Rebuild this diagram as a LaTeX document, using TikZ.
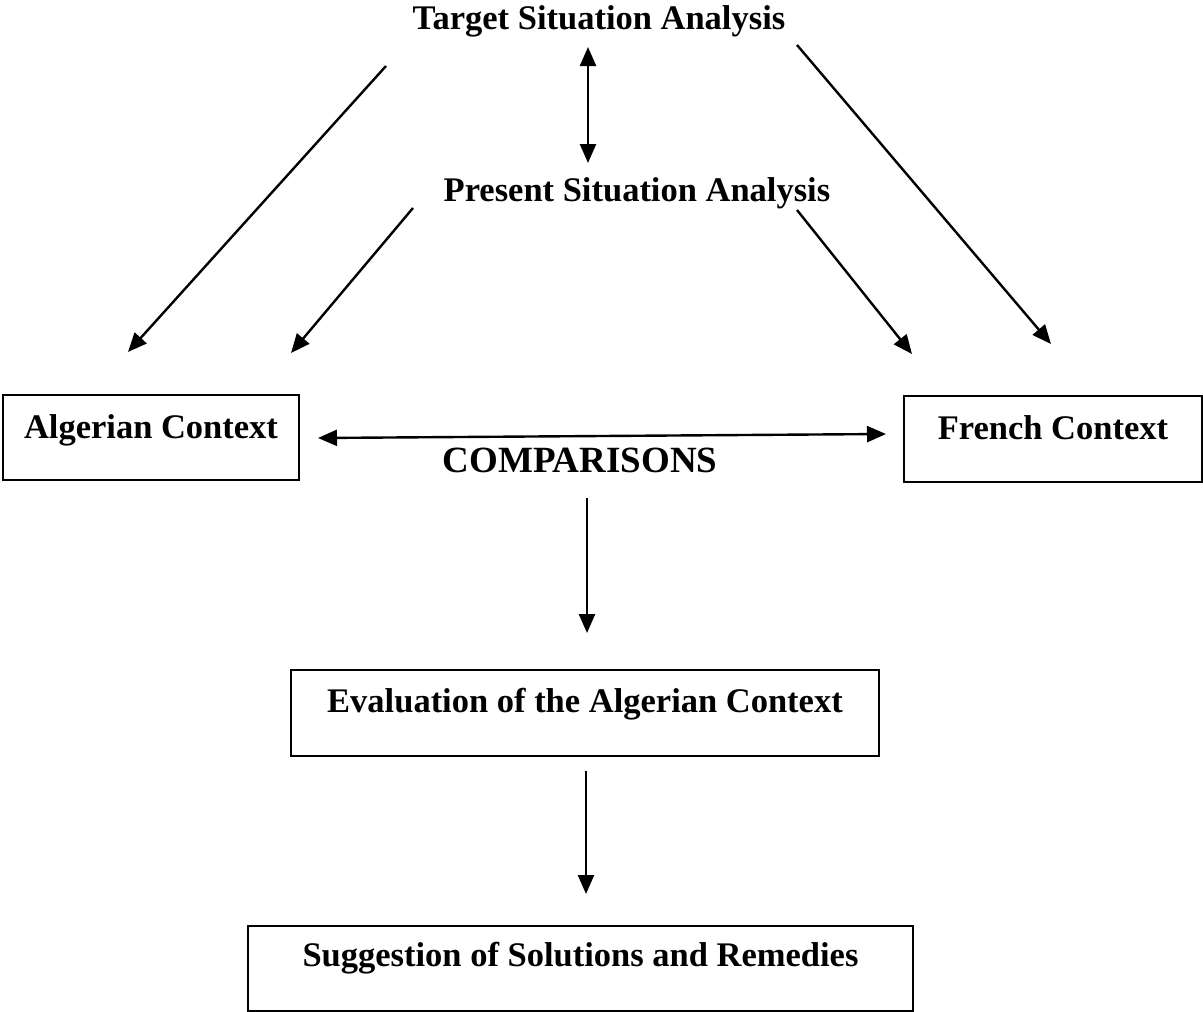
\documentclass[tikz,border=0pt]{standalone}
\usepackage{fontspec}
\setmainfont{Liberation Serif}
\usetikzlibrary{arrows.meta}

\begin{document}
\begin{tikzpicture}[x=1pt,y=-1pt,
  label/.style={font=\fontsize{34.5}{40}\selectfont\bfseries, inner sep=0pt, outer sep=0pt, anchor=base},
  ctxbox/.style={label, draw, line width=1.8pt, align=center, inner xsep=0pt, inner ysep=0pt},
  tip/.style={Triangle[length=19pt,width=16pt]},
  link/.style={line width=2.4pt, -{Triangle[length=19pt,width=16pt]}},
  biglink/.style={line width=2.4pt, {Triangle[length=19pt,width=16pt]}-{Triangle[length=19pt,width=16pt]}}
]
  % page frame
  \useasboundingbox (0,0) rectangle (1203,1012);

  % headings
  \node[label] (tsa) at (599,29) {Target Situation Analysis};
  \node[label] (psa) at (637,201) {Present Situation Analysis};

  % context boxes (text sits in the upper half of each frame)
  \node[ctxbox, minimum width=296pt, text height=43pt, text depth=42pt] (alg) at (151,438) {Algerian Context};
  \node[ctxbox, minimum width=298pt, text height=43pt, text depth=43pt] (fr) at (1053,439) {French Context};

  \node[label, font=\fontsize{37}{42}\selectfont\bfseries] (cmp) at (580,472) {COMPARISONS};

  \node[ctxbox, minimum width=588pt, text height=42pt, text depth=44pt] (eval) at (585,712) {Evaluation of the Algerian Context};
  \node[ctxbox, minimum width=665pt, text height=40pt, text depth=45pt] (sugg) at (580.5,966) {Suggestion of Solutions and Remedies};

  % connector end points
  \coordinate (tsa-l) at (386,66);
  \coordinate (tsa-r) at (797,45);
  \coordinate (tsa-b) at (588,47);
  \coordinate (psa-t) at (588,163);
  \coordinate (psa-l) at (413,208);
  \coordinate (psa-r) at (797,210);
  \coordinate (alg-a) at (128,352);
  \coordinate (alg-b) at (291,353);
  \coordinate (fr-a) at (912,354);
  \coordinate (fr-b) at (1051,344);
  \coordinate (alg-e) at (318,438);
  \coordinate (fr-e) at (886,434);
  \coordinate (cmp-b) at (587,498);
  \coordinate (eval-t) at (587,633);
  \coordinate (eval-b) at (586,771);
  \coordinate (sugg-t) at (586,894);

  % connectors
  \draw[biglink] (tsa-b) -- (psa-t);
  \draw[link] (tsa-l) -- (alg-a);
  \draw[link] (psa-l) -- (alg-b);
  \draw[link] (psa-r) -- (fr-a);
  \draw[link] (tsa-r) -- (fr-b);
  \draw[biglink] (alg-e) -- (fr-e);
  \draw[link] (cmp-b) -- (eval-t);
  \draw[link] (eval-b) -- (sugg-t);
\end{tikzpicture}
\end{document}
